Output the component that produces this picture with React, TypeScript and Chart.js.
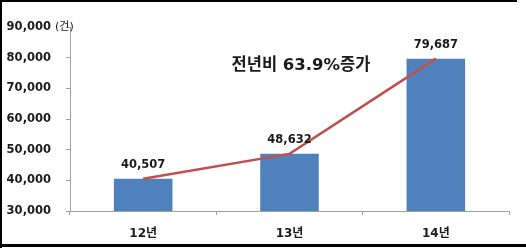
import React, { useEffect, useRef } from "react";
import { Chart, registerables } from "chart.js";

Chart.register(...registerables);

const categories = ["12년", "13년", "14년"];
const values = [40507, 48632, 79687];
const yTicks = [30000, 40000, 50000, 60000, 70000, 80000, 90000];
const unitLabel = "(건)";
const annotation = "전년비 63.9%증가";

const FONT = "'DejaVu Sans', 'Noto Sans CJK KR', sans-serif";
const fmt = (v: number) => v.toLocaleString("en-US");

const overlay = {
  id: "overlay",
  afterDatasetsDraw(chart: any) {
    const ctx = chart.ctx;
    const meta = chart.getDatasetMeta(1);
    ctx.save();
    ctx.fillStyle = "#1a1a1a";
    ctx.font = `bold 11.5px ${FONT}`;
    ctx.textAlign = "center";
    ctx.textBaseline = "middle";
    meta.data.forEach((bar: any, i: number) => {
      ctx.fillText(fmt(values[i]), bar.x, bar.y - 14);
    });
    // unit label
    ctx.font = `11px ${FONT}`;
    ctx.textAlign = "left";
    ctx.fillText(unitLabel, 55, 27);
    // annotation
    ctx.font = `bold 16.5px ${FONT}`;
    ctx.textAlign = "center";
    ctx.fillText(annotation, 301, 66);
    // border
    ctx.strokeStyle = "#000";
    ctx.lineWidth = 2;
    ctx.beginPath();
    ctx.moveTo(1, 248);
    ctx.lineTo(1, 1);
    ctx.lineTo(517, 1);
    ctx.stroke();
    ctx.lineWidth = 3;
    ctx.beginPath();
    ctx.moveTo(0, 245.5);
    ctx.lineTo(526, 245.5);
    ctx.stroke();
    ctx.restore();
  },
};

export default function App() {
  const ref = useRef<HTMLCanvasElement>(null);
  useEffect(() => {
    if (!ref.current) return;
    const chart = new Chart(ref.current, {
      type: "bar",
      data: {
        labels: categories,
        datasets: [
          {
            type: "line",
            data: values,
            borderColor: "#C0504D",
            borderWidth: 2.5,
            pointRadius: 0,
            tension: 0,
            order: 0,
          } as any,
          {
            type: "bar",
            data: values,
            backgroundColor: "#4F81BD",
            barPercentage: 0.4,
            categoryPercentage: 1,
            order: 1,
          },
        ],
      },
      options: {
        animation: false,
        responsive: false,
        layout: { padding: { top: 27, right: 17, left: 0, bottom: 0 } },
        plugins: { legend: { display: false }, tooltip: { enabled: false } },
        scales: {
          x: {
            grid: { drawOnChartArea: false, drawTicks: true, tickLength: 4, color: "#a0a0a0", offset: true },
            border: { color: "#a0a0a0", width: 1 },
            ticks: { color: "#1a1a1a", font: { family: FONT, size: 12, weight: "bold" }, padding: 12 },
            afterFit: (s: any) => { s.height = 37; },
          },
          y: {
            min: 30000,
            max: 90000,
            afterBuildTicks: (s: any) => { s.ticks = yTicks.map((v) => ({ value: v })); },
            grid: { drawOnChartArea: false, drawTicks: true, tickLength: 4, color: "#a0a0a0" },
            border: { color: "#a0a0a0", width: 1 },
            ticks: {
              color: "#1a1a1a",
              font: { family: FONT, size: 11.5, weight: "bold" },
              padding: 15,
              callback: (v: any) => fmt(Number(v)),
            },
            afterFit: (s: any) => { s.width = 70; },
          },
        },
      },
      plugins: [overlay],
    });
    return () => chart.destroy();
  }, []);
  return (
    <div style={{ position: "fixed", left: 0, top: 0, width: 526, height: 248, background: "#fff" }}>
      <canvas ref={ref} width={526} height={248} style={{ width: 526, height: 248 }} />
    </div>
  );
}
